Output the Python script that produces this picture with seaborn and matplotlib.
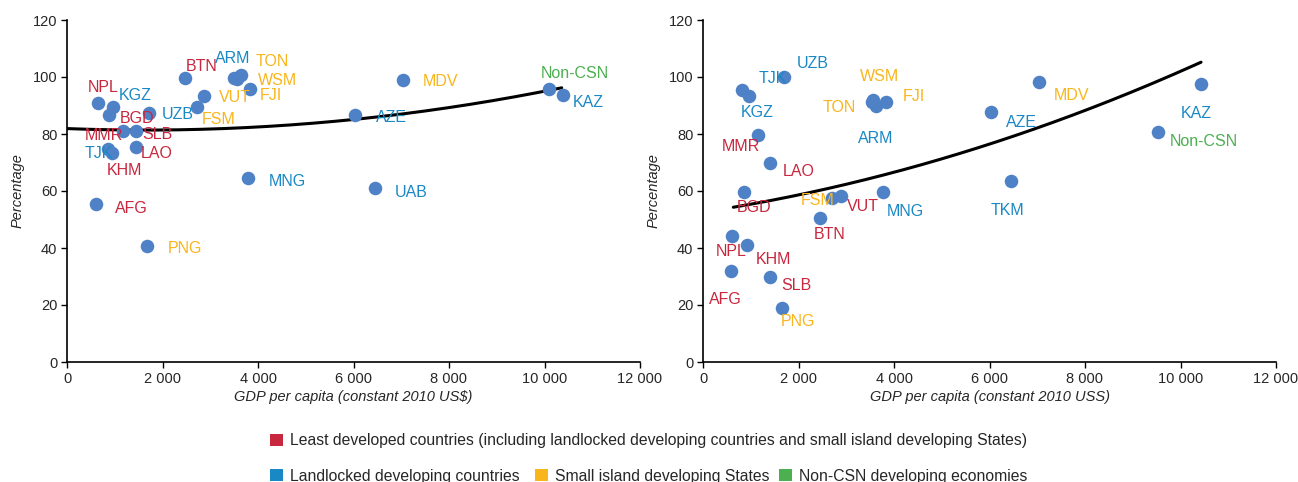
import numpy as np
import pandas as pd
import matplotlib
matplotlib.use("Agg")
import matplotlib.pyplot as plt
import seaborn as sns
from matplotlib.patches import Patch

# ---------------- data ----------------
left_codes = ["NPL", "KGZ", "BGD", "UZB", "MMR", "SLB", "TJK", "KHM", "LAO", "AFG",
              "MNG", "PNG", "BTN", "ARM", "TON", "WSM", "FJI", "VUT", "FSM", "AZE",
              "MDV", "UAB", "Non-CSN", "KAZ"]
left_gdp = [643, 970, 886, 1724, 1180, 1445, 852, 936, 1438, 600,
            3798, 1682, 2471, 3500, 3640, 3570, 3832, 2876, 2716, 6031,
            7030, 6450, 10094, 10394]
left_pct = [90.8, 89.6, 86.6, 87.5, 81.2, 81.2, 74.6, 73.2, 75.5, 55.4,
            64.4, 40.6, 99.8, 99.7, 100.6, 99.2, 95.8, 93.5, 89.4, 86.7,
            99.0, 60.9, 95.7, 93.7]
left_group = ["LDC", "LLDC", "LDC", "LLDC", "LDC", "LDC", "LLDC", "LDC", "LDC", "LDC",
              "LLDC", "SIDS", "LDC", "LLDC", "SIDS", "SIDS", "SIDS", "SIDS", "SIDS", "LLDC",
              "SIDS", "LLDC", "NONCSN", "LLDC"]
# polynomial trendline (order 2): c0, c1, c2 and x-range
left_trend_coef = [81.9, -6.37e-4, 1.948e-7]
left_trend_range = [0, 10360]

right_codes = ["UZB", "TJK", "KGZ", "MMR", "LAO", "BGD", "FSM", "VUT", "MNG", "BTN",
               "NPL", "KHM", "SLB", "AFG", "PNG", "WSM", "TON", "ARM", "FJI", "MDV",
               "AZE", "TKM", "KAZ", "Non-CSN"]
right_gdp = [1703, 817, 956, 1159, 1403, 866, 2695, 2883, 3777, 2450,
             614, 915, 1403, 580, 1661, 3570, 3530, 3620, 3830, 7037,
             6031, 6450, 10423, 9535]
right_pct = [100.1, 95.4, 93.3, 79.5, 69.7, 59.5, 57.6, 58.2, 59.5, 50.6,
             44.3, 40.9, 29.9, 32.0, 18.9, 91.8, 91.3, 89.8, 91.1, 98.1,
             87.8, 63.6, 97.4, 80.8]
right_group = ["LLDC", "LLDC", "LLDC", "LDC", "LDC", "LDC", "SIDS", "LDC", "LLDC", "LDC",
               "LDC", "LDC", "LDC", "LDC", "SIDS", "SIDS", "SIDS", "LLDC", "SIDS", "SIDS",
               "LLDC", "LLDC", "LLDC", "NONCSN"]
right_trend_coef = [52.59, 2.536e-3, 2.404e-7]
right_trend_range = [635, 10430]

legend_labels = [
    "Least developed countries (including landlocked developing countries and small island developing States)",
    "Landlocked developing countries",
    "Small island developing States",
    "Non-CSN developing economies",
]
x_ticks = [0, 2000, 4000, 6000, 8000, 10000, 12000]
y_ticks = [0, 20, 40, 60, 80, 100, 120]
x_labels = ["GDP per capita (constant 2010 US$)", "GDP per capita (constant 2010 USS)"]
y_label = "Percentage"

# ---------------- style / layout ----------------
group_colors = {"LDC": "#C8273D", "LLDC": "#1A88C4", "SIDS": "#F9B51C", "NONCSN": "#4CAF50"}
point_color = "#4F81C6"

# label offsets in pixels (dx right, dy down)
left_off = {"NPL": (5, -16), "KGZ": (22, -11), "BGD": (28, 3), "UZB": (28, 2), "MMR": (-19, 5),
            "SLB": (21, 4), "TJK": (-9, 4), "KHM": (13, 17), "LAO": (21, 7), "AFG": (36, 4),
            "MNG": (39, 3), "PNG": (38, 2), "BTN": (17, -11), "ARM": (-1, -19), "TON": (31, -14),
            "WSM": (40, 1), "FJI": (21, 7), "VUT": (31, 2), "FSM": (22, 12), "AZE": (36, 3),
            "MDV": (38, 2), "UAB": (36, 4), "Non-CSN": (26, -16), "KAZ": (25, 8)}
right_off = {"UZB": (28, -13), "TJK": (31, -12), "KGZ": (9, 16), "MMR": (-17, 11), "LAO": (29, 8),
             "BGD": (10, 15), "FSM": (-14, 3), "VUT": (22, 10), "MNG": (22, 19), "BTN": (10, 17),
             "NPL": (-1, 16), "KHM": (27, 14), "SLB": (26, 9), "AFG": (-5, 29), "PNG": (16, 13),
             "WSM": (6, -24), "TON": (-32, 6), "ARM": (0, 32), "FJI": (28, -6), "MDV": (32, 13),
             "AZE": (30, 11), "TKM": (-3, 30), "KAZ": (-4, 29), "Non-CSN": (46, 10)}

sns.set_theme(style="ticks")
plt.rcParams["font.family"] = ["Liberation Sans", "DejaVu Sans"]

W, H = 1298, 482
fig = plt.figure(figsize=(W / 100, H / 100), dpi=100)
ax_l = fig.add_axes([67 / W, (H - 362) / H, 573 / W, 342 / H])
ax_r = fig.add_axes([703 / W, (H - 362) / H, 573 / W, 342 / H])

panels = [
    (ax_l, left_codes, left_gdp, left_pct, left_group, left_off, x_labels[0],
     left_trend_coef, left_trend_range),
    (ax_r, right_codes, right_gdp, right_pct, right_group, right_off, x_labels[1],
     right_trend_coef, right_trend_range),
]

for ax, codes, gdp, pct, grp, off, xl, coef, rng in panels:
    df = pd.DataFrame({"code": codes, "gdp": gdp, "pct": pct, "group": grp})
    tx = np.linspace(rng[0], rng[1], 200)
    ty = coef[0] + coef[1] * tx + coef[2] * tx ** 2
    sns.lineplot(x=tx, y=ty, color="black", lw=2.2, ax=ax, zorder=2)
    sns.scatterplot(data=df, x="gdp", y="pct", color=point_color, s=95, linewidth=0,
                    ax=ax, zorder=3)
    for _, r in df.iterrows():
        dx, dy = off[r["code"]]
        ax.annotate(r["code"], (r["gdp"], r["pct"]), xytext=(dx, -dy),
                    textcoords="offset pixels", ha="center", va="center",
                    fontsize=11.5, color=group_colors[r["group"]], zorder=4)
    ax.set_xlim(0, 12000)
    ax.set_ylim(0, 120)
    ax.set_xticks(x_ticks)
    ax.set_xticklabels([f"{v:,}".replace(",", " ") for v in x_ticks])
    ax.set_yticks(y_ticks)
    ax.tick_params(axis="both", labelsize=10.5, length=4, width=1, color="black",
                   direction="out", pad=3)
    ax.set_xlabel(xl, fontsize=10.5, style="italic", labelpad=3)
    ax.set_ylabel(y_label, fontsize=10.5, style="italic", labelpad=6)
    for s in ["top", "right"]:
        ax.spines[s].set_visible(False)
    for s in ["left", "bottom"]:
        ax.spines[s].set_color("black")
        ax.spines[s].set_linewidth(1.2)

leg_kw = dict(loc="center left", frameon=False, fontsize=11.3, handlelength=0.8,
              handleheight=0.8, handletextpad=0.45, borderaxespad=0, borderpad=0)
legend_groups = ["LDC", "LLDC", "SIDS", "NONCSN"]
legend_pos = [(270, 441), (270, 476), (535, 476), (779, 476)]
for g, lab, (px, py) in zip(legend_groups, legend_labels, legend_pos):
    fig.legend([Patch(facecolor=group_colors[g], edgecolor="none")], [lab],
               bbox_to_anchor=(px / W, 1 - py / H), **leg_kw)

fig.savefig("out.png", dpi=100)
